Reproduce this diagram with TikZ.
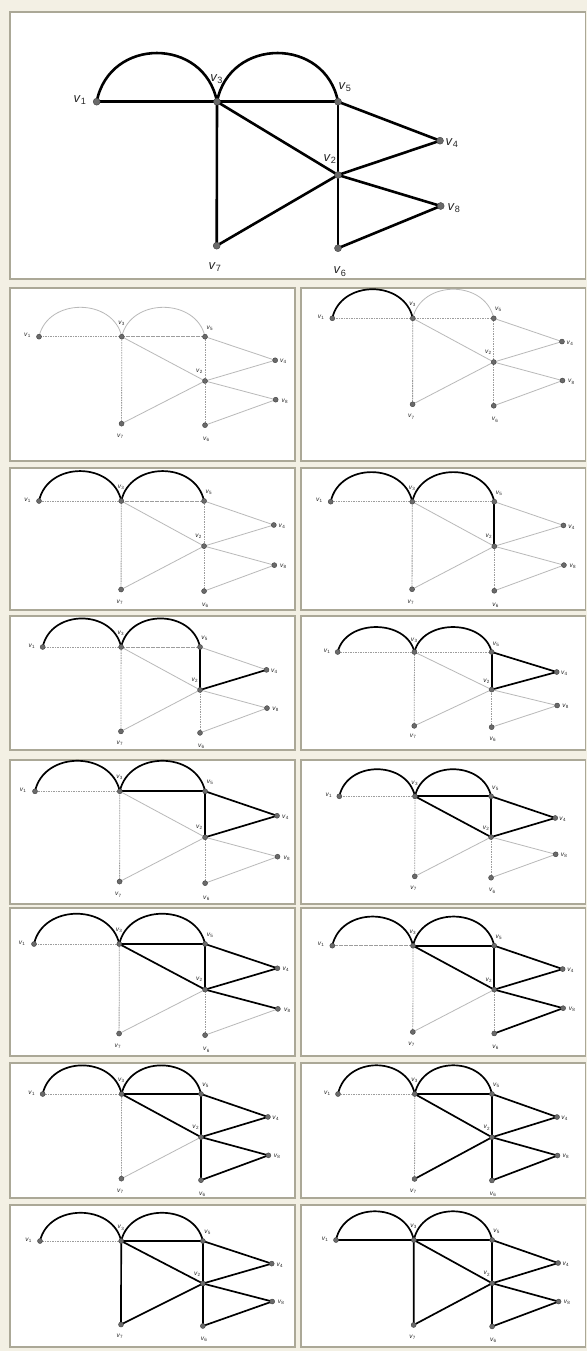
\documentclass[tikz,border=0pt]{standalone}
\usepackage{fontspec}
\setmainfont{Liberation Sans}
\usepackage{xcolor}
\definecolor{ecream}{HTML}{F3F0E4}
\definecolor{eframe}{HTML}{ABA897}
\definecolor{egray}{HTML}{B9B9B9}
\definecolor{edotc}{HTML}{6A6A6A}
\pgfdeclarelayer{panels}
\pgfdeclarelayer{edges}
\pgfsetlayers{panels,edges,main}
\tikzset{
  epanel/.style={fill=white, draw=eframe, line width=1.5pt},
  edot/.style={circle, inner sep=0pt, minimum size=5pt, fill=edotc,
               draw=black!75, line width=0.4pt},
  elbl/.style={inner sep=0pt, text=black!85},
  edone/.style={black, line width=1.7pt, line cap=round},
  efaint/.style={egray, line width=0.8pt},
  efaintdash/.style={egray!85!black, line width=0.8pt, dash pattern=on 1.6pt off 0.9pt},
  ebig/.style={edot/.append style={minimum size=7pt},
               elbl/.append style={font=\fontsize{13}{13}\selectfont},
               edone/.append style={line width=2.6pt}},
  esmall/.style={elbl/.append style={font=\fontsize{6.5}{7}\selectfont}},
  ed/.code 2 args={\ifnum#1<\estep\relax\pgfkeysalso{/tikz/edone}\else\pgfkeysalso{/tikz/#2}\fi},
}

\newcommand{\eulergraph}{%
  % vertices
  \node[edot] (v1) at (0,0) {};
  \node[edot] (v3) at (120.3,0) {};
  \node[edot] (v5) at (241.3,0) {};
  \node[edot] (v4) at (343.3,-39) {};
  \node[edot] (v2) at (241.3,-73.3) {};
  \node[edot] (v8) at (344,-104.3) {};
  \node[edot] (v7) at (120,-144) {};
  \node[edot] (v6) at (241.3,-146.5) {};
  % labels
  \node[elbl] (l1) at (-16.7,1.7) {\textit{v}\textsubscript{1}};
  \node[elbl] (l3) at (120,22.7) {\textit{v}\textsubscript{3}};
  \node[elbl] (l5) at (248.3,14.4) {\textit{v}\textsubscript{5}};
  \node[elbl] (l4) at (355.3,-41.3) {\textit{v}\textsubscript{4}};
  \node[elbl] (l2) at (233.3,-57.3) {\textit{v}\textsubscript{2}};
  \node[elbl] (l8) at (357.3,-106.3) {\textit{v}\textsubscript{8}};
  \node[elbl] (l7) at (118.3,-165) {\textit{v}\textsubscript{7}};
  \node[elbl] (l6) at (243.3,-170) {\textit{v}\textsubscript{6}};
  % edges, in the order of the circuit
  \begin{pgfonlayer}{edges}
    \draw[ed={1}{efaint}] (v1.center) .. controls +(12.6,64.9) and +(-12.6,64.9) .. (v3.center);
    \draw[ed={2}{efaint}] (v3.center) .. controls +(12.6,64.9) and +(-12.6,64.9) .. (v5.center);
    \draw[ed={3}{efaintdash}] (v5.center) -- (v2.center);
    \draw[ed={4}{efaint}] (v2.center) -- (v4.center);
    \draw[ed={5}{efaint}] (v4.center) -- (v5.center);
    \draw[ed={6}{efaintdash}] (v5.center) -- (v3.center);
    \draw[ed={7}{efaint}] (v3.center) -- (v2.center);
    \draw[ed={8}{efaint}] (v2.center) -- (v8.center);
    \draw[ed={9}{efaint}] (v8.center) -- (v6.center);
    \draw[ed={10}{efaintdash}] (v6.center) -- (v2.center);
    \draw[ed={11}{efaint}] (v2.center) -- (v7.center);
    \draw[ed={12}{efaintdash}] (v7.center) -- (v3.center);
    \draw[ed={13}{efaintdash}] (v3.center) -- (v1.center);
  \end{pgfonlayer}
}

\begin{document}
\begin{tikzpicture}[x=1pt,y=1pt]
  \useasboundingbox (0,0) rectangle (587,-1351);

  % ---- frames ----
  \begin{pgfonlayer}{panels}
    \fill[ecream] (0,0) rectangle (587,-1351);
    \draw[epanel] (10,-12) rectangle (585.5,-279);
    \foreach \ya/\yb in {288/461,468/610,616/750,760/904,908/1056,1063/1198,1205/1347} {
      \draw[epanel] (10,-\ya) rectangle (295,-\yb);
      \draw[epanel] (301,-\ya) rectangle (585.5,-\yb);
    }
  \end{pgfonlayer}

  % ---- whole graph ----
  \begin{scope}[shift={(96.7,-101.7)}, ebig]
    \def\estep{14}
    \eulergraph
  \end{scope}

  % ---- steps of the circuit ----
  \foreach \n/\ox/\oy/\sx/\sy in {1/39/336.7/0.688/0.604, 2/332.3/318.3/0.669/0.597,
      3/39/501/0.684/0.615, 4/330.7/501.7/0.678/0.608,
      5/42.7/647/0.652/0.586, 6/337.7/652/0.638/0.513,
      7/35/791.3/0.705/0.627, 8/339.3/796.3/0.629/0.556,
      9/34/944/0.709/0.622, 10/332.3/945.7/0.671/0.599,
      11/42.7/1094/0.656/0.588, 12/338/1094/0.638/0.59,
      13/40/1241/0.675/0.58, 14/336/1240/0.647/0.59} {
    \begin{scope}[shift={(\ox,-\oy)}, xscale=\sx, yscale=\sy, esmall]
      \edef\estep{\n}
      \eulergraph
    \end{scope}
  }
\end{tikzpicture}
\end{document}
